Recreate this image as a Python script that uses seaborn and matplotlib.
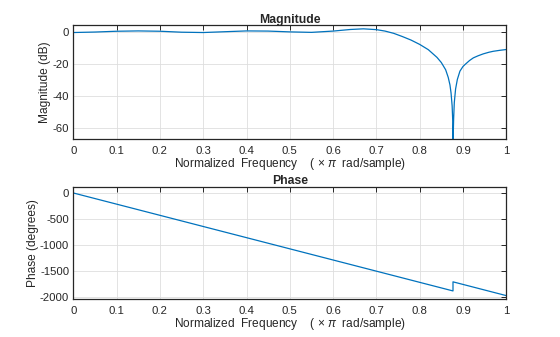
import numpy as np
import pandas as pd
import matplotlib
matplotlib.use("Agg")
import matplotlib.pyplot as plt
import seaborn as sns

# ---- data ----
mag_freq = [0.00, 0.05, 0.10, 0.15, 0.20, 0.25, 0.30, 0.35, 0.40, 0.45, 0.50,
            0.55, 0.60, 0.64, 0.67, 0.70, 0.72, 0.74, 0.76, 0.78, 0.80, 0.82,
            0.84, 0.85, 0.86, 0.866, 0.870, 0.8725, 0.875, 0.8765, 0.877,
            0.8785, 0.880, 0.883, 0.887, 0.893, 0.900, 0.905, 0.915, 0.924,
            0.935, 0.947, 0.960, 0.970, 0.985, 1.000]
mag_db = [-0.3, 0.0, 0.5, 0.7, 0.5, -0.1, -0.3, 0.2, 0.7, 0.6, 0.1,
          -0.2, 0.6, 1.6, 2.0, 1.5, 0.6, -0.8, -2.8, -5.0, -7.7, -11.0,
          -15.8, -19.0, -23.5, -28.3, -33.0, -38.0, -46.0, -56.0, -70.0,
          -54.0, -44.0, -35.5, -29.6, -24.4, -21.5, -20.2, -17.8, -16.1,
          -14.8, -13.6, -12.6, -12.0, -11.4, -10.9]

phase_freq = [0.0, 0.877, 0.877, 1.0]
phase_deg = [0.0, -1885.0, -1710.0, -1975.0]

xticks = [0, 0.1, 0.2, 0.3, 0.4, 0.5, 0.6, 0.7, 0.8, 0.9, 1]
xticklabels = ["0", "0.1", "0.2", "0.3", "0.4", "0.5", "0.6", "0.7", "0.8", "0.9", "1"]
mag_yticks = [0, -20, -40, -60]
phase_yticks = [0, -500, -1000, -1500, -2000]

# ---- styling ----
sns.set_style("white")
plt.rcParams["font.family"] = ["Liberation Sans", "DejaVu Sans"]
plt.rcParams["mathtext.fontset"] = "custom"
plt.rcParams["mathtext.rm"] = "Liberation Sans"
plt.rcParams["mathtext.it"] = "Liberation Sans:italic"

line_color = "#0072BD"
axis_color = "#262626"
grid_color = "#dedede"

fig = plt.figure(figsize=(5.6, 3.37), dpi=100)
ax1 = fig.add_axes([0.131, 0.5875, 0.773, 0.3374])
ax2 = fig.add_axes([0.131, 0.1128, 0.773, 0.3315])

mag_df = pd.DataFrame({"f": mag_freq, "db": mag_db})
phase_df = pd.DataFrame({"f": phase_freq, "deg": phase_deg})

sns.lineplot(data=mag_df, x="f", y="db", ax=ax1, color=line_color,
             linewidth=0.9, estimator=None, sort=False)
sns.lineplot(data=phase_df, x="f", y="deg", ax=ax2, color=line_color,
             linewidth=0.9, estimator=None, sort=False)

xlabel = "Normalized  Frequency    ( \u00d7 $\\pi$  rad/sample)"

for ax, title, ylabel, yticks, ylim in [
        (ax1, "Magnitude", "Magnitude (dB)", mag_yticks, (-66.7, 4.2)),
        (ax2, "Phase", "Phase (degrees)", phase_yticks, (-2040, 110))]:
    ax.set_xlim(0, 1)
    ax.set_ylim(*ylim)
    ax.set_xticks(xticks)
    ax.set_xticklabels(xticklabels)
    ax.set_yticks(yticks)
    ax.set_yticklabels([str(v) for v in yticks])
    ax.grid(True, color=grid_color, linewidth=0.6)
    ax.set_axisbelow(True)
    for sp in ax.spines.values():
        sp.set_visible(True)
        sp.set_color(axis_color)
        sp.set_linewidth(0.9)
    ax.tick_params(direction="in", length=3.5, width=0.7, colors=axis_color,
                   top=True, right=True, labelsize=8.2, pad=3)
    ax.tick_params(axis="x", pad=5)
    ax.set_title(title, fontsize=8.8, fontweight="bold", color=axis_color, pad=2)
    ax.set_xlabel(xlabel, fontsize=8.6, color=axis_color, labelpad=0)
    ax.set_ylabel(ylabel, fontsize=8.6, color=axis_color, labelpad=1)
    for lbl in ax.get_xticklabels() + ax.get_yticklabels():
        lbl.set_color(axis_color)

fig.savefig("out.png", dpi=100, facecolor="white")
